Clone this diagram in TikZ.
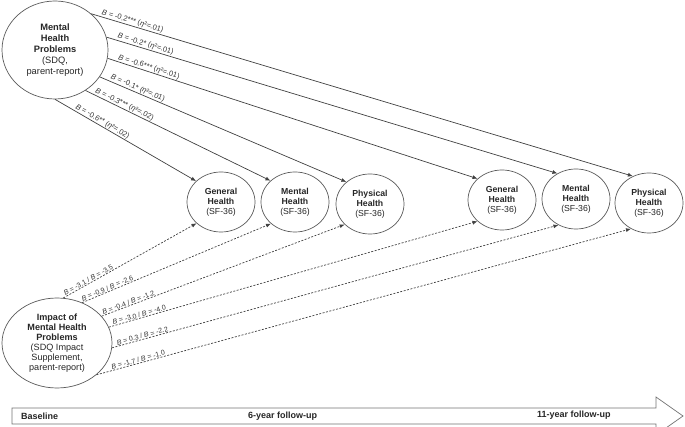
\documentclass[tikz,border=0pt]{standalone}
\usepackage{fontspec}
\setmainfont{Liberation Sans}
\usetikzlibrary{shapes.geometric,arrows.meta}
\begin{document}
\begin{tikzpicture}[x=1pt,y=-1pt,
  ell/.style={ellipse,draw=black!65,line width=0.7pt,inner sep=0pt,align=center,text=black!85},
  bigell/.style={ell,font=\fontsize{9.3}{10.8}\selectfont},
  smell/.style={ell,minimum width=68pt,minimum height=60pt,font=\fontsize{8.7}{9.8}\selectfont},
  solidarr/.style={draw=black!75,line width=0.7pt,-{Latex[length=5pt,width=4pt]}},
  dasharr/.style={solidarr,dash pattern=on 2pt off 1.5pt},
  lab/.style={sloped,above,inner sep=0.6pt,text=black!80,font=\fontsize{7.5}{8}\selectfont},
  dlab/.style={lab,font=\fontsize{7}{8}\selectfont},
  tl/.style={font=\fontsize{9}{10}\selectfont\bfseries,text=black!85,inner sep=0pt},
]
\useasboundingbox (0,0) rectangle (685,427);

% top-left source
\node[bigell,minimum width=106pt,minimum height=98pt] (mhp) at (55,50)
  {\textbf{Mental}\\\textbf{Health}\\\textbf{Problems}\\(SDQ,\\parent-report)};
% bottom-left source
\node[bigell,minimum width=110pt,minimum height=90pt,font=\fontsize{9.1}{10}\selectfont] (imp) at (57,343)
  {\textbf{Impact of}\\\textbf{Mental Health}\\\textbf{Problems}\\(SDQ Impact\\Supplement,\\parent-report)};

% outcomes
\node[smell] (g1) at (221,202) {\textbf{General}\\\textbf{Health}\\(SF-36)};
\node[smell] (m1) at (295,202) {\textbf{Mental}\\\textbf{Health}\\(SF-36)};
\node[smell] (p1) at (370,204) {\textbf{Physical}\\\textbf{Health}\\(SF-36)};
\node[smell] (g2) at (502,200) {\textbf{General}\\\textbf{Health}\\(SF-36)};
\node[smell] (m2) at (576,199) {\textbf{Mental}\\\textbf{Health}\\(SF-36)};
\node[smell] (p2) at (649,203) {\textbf{Physical}\\\textbf{Health}\\(SF-36)};

% solid arrows
\draw[solidarr] (mhp.45) -- node[lab,pos=0.074] {\textit{B} = -0.2*** (\textit{η}²=.01)} (p2.121);
\draw[solidarr] (mhp.14) -- node[lab,pos=0.084] {\textit{B} = -0.2* (\textit{η}²=.01)} (m2.126);
\draw[solidarr] (mhp.-9) -- node[lab,pos=0.108] {\textit{B} = -0.6*** (\textit{η}²=.01)} (g2.139);
\draw[solidarr] (mhp.-31) -- node[lab,pos=0.147] {\textit{B} = -0.1* (\textit{η}²=.01)} (p1.137);
\draw[solidarr] (mhp.-53) -- node[lab,pos=0.2] {\textit{B} = -0.3*** (\textit{η}²=.02)} (m1.139);
\draw[solidarr] (mhp.-90) -- node[lab,pos=0.32] {\textit{B} = -0.6** (\textit{η}²=.02)} (g1.140);

% dashed arrows
\draw[dasharr] (imp.82) -- node[dlab,pos=0.2] {\textit{B} = -3.1 / \textit{B} = -3.5} (g1.221);
\draw[dasharr] (imp.58) -- node[dlab,pos=0.14] {\textit{B} = -0.9 / \textit{B} = -2.6} (m1.222);
\draw[dasharr] (imp.31) -- node[dlab,pos=0.115] {\textit{B} = -0.4 / \textit{B} = -1.2} (p1.219);
\draw[dasharr] (imp.17) -- node[dlab,pos=0.085] {\textit{B} = -3.0 / \textit{B} = -4.0} (g2.221);
\draw[dasharr] (imp.-5) -- node[dlab,pos=0.07] {\textit{B} = 0.3 / \textit{B} = -2.2} (m2.236);
\draw[dasharr] (imp.-39) -- node[dlab,pos=0.08] {\textit{B} = -1.7 / \textit{B} = -1.0} (p2.235);

% timeline
\draw[draw=black!55,line width=0.7pt,fill=white]
  (12,408) -- (656,408) -- (656,397) -- (683,416) -- (656,435) -- (656,424) -- (12,424) -- cycle;
\node[tl,anchor=west] (t0) at (21,416.5) {Baseline};
\node[tl,anchor=west] (t6) at (248,416.5) {6-year follow-up};
\node[tl,anchor=west] (t11) at (537,415.5) {11-year follow-up};
\end{tikzpicture}
\end{document}
